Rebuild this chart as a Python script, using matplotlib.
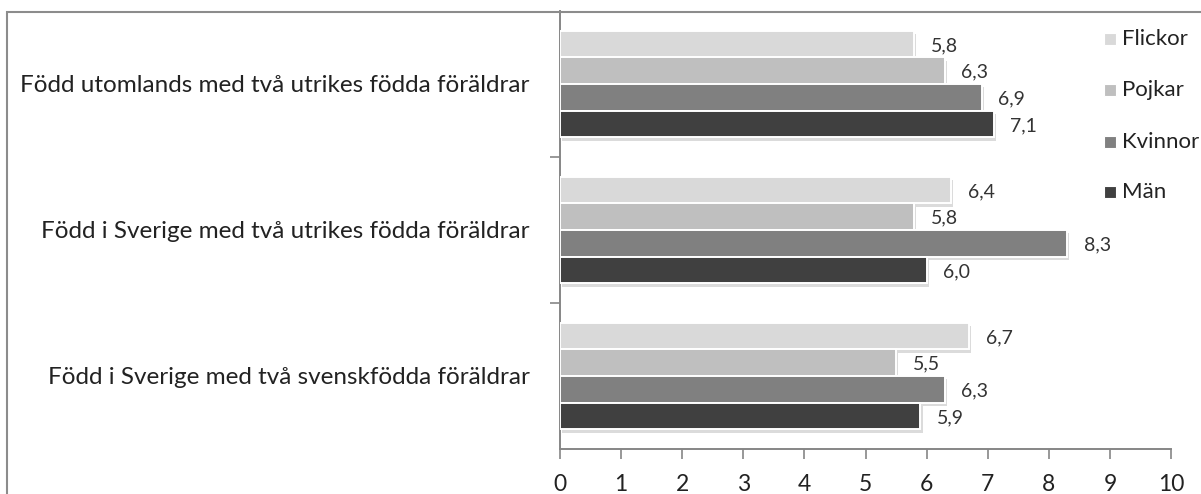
import matplotlib
matplotlib.use("Agg")
import matplotlib.pyplot as plt
import matplotlib.patheffects as pe
from matplotlib.patches import Rectangle
import numpy as np

# bottom to top
categories = [
    "Född i Sverige med två svenskfödda föräldrar",
    "Född i Sverige med två utrikes födda föräldrar",
    "Född utomlands med två utrikes födda föräldrar",
]
series_names = ["Flickor", "Pojkar", "Kvinnor", "Män"]
flickor = [6.7, 6.4, 5.8]
pojkar = [5.5, 5.8, 6.3]
kvinnor = [6.3, 8.3, 6.9]
man = [5.9, 6.0, 7.1]
x_ticks = list(range(0, 11))

colors = ["#d9d9d9", "#bfbfbf", "#808080", "#404040"]
FONT = ["Lato", "DejaVu Sans"]
plt.rcParams["font.family"] = FONT

W, H = 1201, 494
fig = plt.figure(figsize=(W / 100, H / 100), dpi=100)
ax = fig.add_axes([560 / W, 1 - 449 / H, (1171 - 560) / W, (449 - 11) / H])

y = np.arange(len(categories))
pitch = 0.183
offsets = [1.5 * pitch, 0.5 * pitch, -0.5 * pitch, -1.5 * pitch]
shadow = [pe.SimplePatchShadow(offset=(1.5, -2.5), shadow_rgbFace="#999999", alpha=0.35),
          pe.Normal()]

for vals, off, col in zip([flickor, pojkar, kvinnor, man], offsets, colors):
    bars = ax.barh(y + off, vals, height=pitch, color=col, edgecolor="white",
                   linewidth=1.4, zorder=3)
    for b in bars:
        b.set_path_effects(shadow)
    for yi, v in zip(y + off, vals):
        ax.text(v + 0.27, yi - 0.01, f"{v:.1f}".replace(".", ","), ha="left",
                va="center", fontsize=14, color="#333333", zorder=2)

ax.set_xlim(0, 10)
ax.set_ylim(-0.5, 2.5)
ax.set_xticks(x_ticks)
ax.set_xticklabels([str(t) for t in x_ticks], fontsize=16.5, color="#222222")
ax.set_yticks(y)
ax.set_yticklabels(categories, fontsize=17.5, color="#222222")
ax.set_yticks([0.5, 1.5], minor=True)
ax.tick_params(axis="y", which="major", length=0, pad=22)
ax.tick_params(axis="y", which="minor", length=7, color="#868686", width=1.2)
ax.tick_params(axis="x", length=7, color="#868686", width=1.2, pad=11)
for s in ["top", "right"]:
    ax.spines[s].set_visible(False)
for s in ["left", "bottom"]:
    ax.spines[s].set_color("#868686")
    ax.spines[s].set_linewidth(1.4)

# legend drawn as markers + text in figure pixels
leg_y = [39, 90, 142, 192]
for name, col, ly in zip(series_names, colors, leg_y):
    fig.patches.append(Rectangle((1104 / W, 1 - (ly + 6) / H), 12 / W, 12 / H,
                                 transform=fig.transFigure, facecolor=col,
                                 edgecolor="white", linewidth=0.8))
    fig.text(1122 / W, 1 - ly / H, name, ha="left", va="center", fontsize=16,
             color="#222222")

# chart area border
fig.patches.append(Rectangle((7 / W, -0.1), 1.2, 1.1 - 12 / H,
                             transform=fig.transFigure, fill=False,
                             edgecolor="#8c8c8c", linewidth=1.5))

fig.savefig("out.png", dpi=100)
